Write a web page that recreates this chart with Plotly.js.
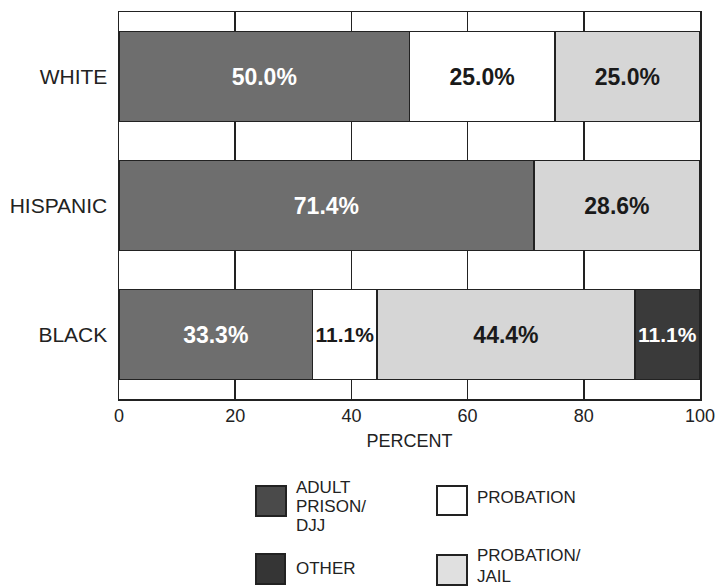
<!DOCTYPE html>
<html><head><meta charset="utf-8">
<script src="https://cdn.plot.ly/plotly-3.0.1.min.js"></script>
<style>html,body{margin:0;padding:0;background:#fff}#chart{width:718px;height:586px}</style>
</head><body><div id="chart"></div>
<script>
// ---- data ----
const categories = ['WHITE', 'HISPANIC', 'BLACK'];
const seriesNames = ['ADULT PRISON/DJJ', 'PROBATION', 'PROBATION/JAIL', 'OTHER'];
const adultPrison = [50.0, 71.4, 33.3];
const probation = [25.0, 0, 11.1];
const probationJail = [25.0, 28.6, 44.4];
const other = [0, 0, 11.1];
const xTickVals = [0, 20, 40, 60, 80, 100];
const legendLines = [['ADULT', 'PRISON/', 'DJJ'], ['PROBATION'], ['PROBATION/', 'JAIL'], ['OTHER']];

// ---- styles ----
const colors = ['#6e6e6e', '#ffffff', '#d6d6d6', '#3a3a3a'];
const swatchColors = ['#4a4a4a', '#ffffff', '#e0e0e0', '#353535'];
const textColors = ['#ffffff', '#1a1a1a', '#1a1a1a', '#ffffff'];
const FONT = 'Liberation Sans, Arial, sans-serif';

const values = [adultPrison, probation, probationJail, other];
const traces = values.map((v, i) => ({
  type: 'bar', orientation: 'h', y: categories, x: v, name: seriesNames[i],
  text: v.map(d => d > 0 ? d.toFixed(1) + '%' : ''),
  textposition: 'inside', insidetextanchor: 'middle', constraintext: 'inside', textangle: 0,
  textfont: {family: FONT, size: 23, color: textColors[i], weight: 'bold'},
  marker: {color: colors[i], line: {color: '#222', width: 1.5}},
  showlegend: false, hoverinfo: 'skip'
}));

// plot area in pixels
const L = 119, R = 700, T = 12, B = 399;
const px2x = p => (p - L) / (R - L);
const py2y = p => (B - p) / (B - T);

// legend placement (pixels): swatch box, text x, line centers
const legendPos = [
  {box: [256, 486, 286, 516], tx: 294, ly: [487, 506, 525]},
  {box: [437, 486, 467, 515], tx: 475, ly: [497]},
  {box: [437, 555, 467, 585], tx: 475, ly: [555, 576]},
  {box: [256, 554, 285, 584], tx: 294, ly: [568]}
];
const shapes = [], annotations = [];
legendPos.forEach((p, i) => {
  shapes.push({type: 'rect', xref: 'paper', yref: 'paper',
    x0: px2x(p.box[0]), x1: px2x(p.box[2]), y0: py2y(p.box[3]), y1: py2y(p.box[1]),
    fillcolor: swatchColors[i], line: {color: '#222', width: 2}});
  legendLines[i].forEach((t, j) => {
    annotations.push({xref: 'paper', yref: 'paper', x: px2x(p.tx), y: py2y(p.ly[j]),
      xanchor: 'left', yanchor: 'middle', showarrow: false, text: t,
      font: {family: FONT, size: 17, color: '#222'}});
  });
});

const layout = {
  width: 718, height: 586,
  margin: {l: L, r: 718 - R, t: T, b: 586 - B, pad: 0},
  barmode: 'stack', bargap: 0.3,
  paper_bgcolor: '#ffffff', plot_bgcolor: '#ffffff',
  font: {family: FONT, color: '#222'},
  xaxis: {range: [0, 100], tickvals: xTickVals, showgrid: true, gridcolor: '#222', gridwidth: 1.5,
    zeroline: false, showline: true, mirror: true, linecolor: '#222', linewidth: 1.5, ticks: '',
    tickfont: {size: 18, color: '#222'}, automargin: false,
    title: {text: 'PERCENT', font: {size: 18, color: '#222'}, standoff: 9}},
  yaxis: {categoryorder: 'array', categoryarray: categories, autorange: 'reversed',
    showline: true, mirror: true, linecolor: '#222', linewidth: 1.5, showgrid: false, zeroline: false,
    ticks: '', tickfont: {size: 21, color: '#222'}, automargin: false, ticklabelstandoff: 6},
  shapes: shapes, annotations: annotations
};

Plotly.newPlot('chart', traces, layout, {staticPlot: true, displayModeBar: false});
</script>
</body></html>
